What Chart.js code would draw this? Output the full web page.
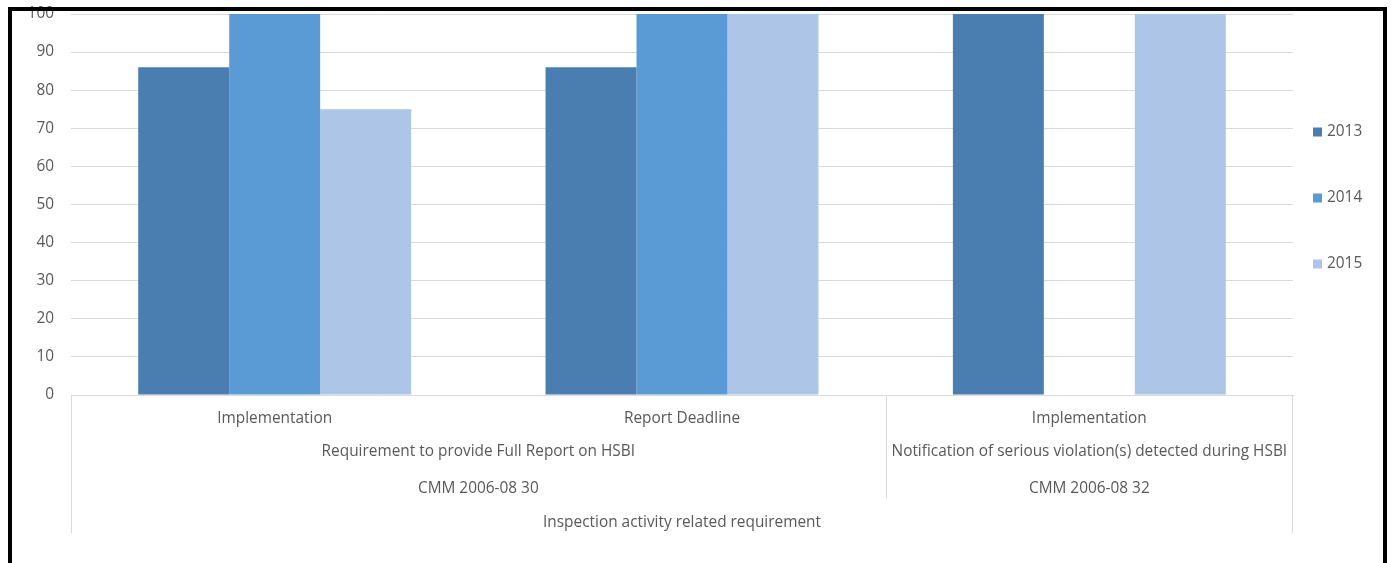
<!DOCTYPE html>
<html>
<head>
<meta charset="utf-8">
<script src="https://cdn.jsdelivr.net/npm/chart.js@4/dist/chart.umd.min.js"></script>
<style>
  html, body { margin: 0; padding: 0; background: #fff; overflow: hidden; }
  #wrap { position: relative; width: 1392px; height: 563px; }
  #frame {
    position: absolute; left: 8px; top: 7px; width: 1379px; height: 640px;
    border: 4px solid #000; box-sizing: border-box; pointer-events: none;
  }
</style>
</head>
<body>
<div id="wrap">
  <canvas id="c" width="1392" height="563"></canvas>
  <div id="frame"></div>
</div>
<script>
// Category hierarchy (innermost level first)
const activities = ['Implementation', 'Report Deadline', 'Implementation'];
const requirements = ['Requirement to provide Full Report on HSBI', 'Notification of serious violation(s) detected during HSBI'];
const requirementSpans = [2, 1];
const measures = ['CMM 2006-08 30', 'CMM 2006-08 32'];
const measureSpans = [2, 1];
const topGroup = 'Inspection activity related requirement';

// Compliance (%) per year
const years = ['2013', '2014', '2015'];
const values2013 = [86, 86, 100];
const values2014 = [100, 100, null];
const values2015 = [75, 100, 100];

const colors = ['#4A7EB0', '#5B9BD5', '#ADC5E6'];
const FONT = '"Open Sans", sans-serif';
const FSIZE = 15.4;
const TEXT = '#595959';
const LINE = '#D9D9D9';

// Draws the grouped category levels below the axis and the legend at right
const groupAxis = {
  id: 'groupAxis',
  afterDraw(chart) {
    const ctx = chart.ctx;
    const x = chart.scales.x;
    const area = chart.chartArea;
    const half = (x.getPixelForValue(1) - x.getPixelForValue(0)) / 2;
    const edge = i => x.getPixelForValue(i) - half; // left boundary of category i
    const rowY = [452, 489];
    const rows = [[requirements, requirementSpans], [measures, measureSpans]];
    ctx.save();
    ctx.font = FSIZE + 'px ' + FONT;
    ctx.fillStyle = TEXT;
    ctx.textAlign = 'center';
    ctx.textBaseline = 'middle';
    rows.forEach(([labels, spans], r) => {
      let start = 0;
      labels.forEach((lab, k) => {
        const a = edge(start), b = edge(start + spans[k]);
        ctx.fillText(lab, (a + b) / 2, rowY[r]);
        start += spans[k];
      });
    });
    ctx.fillText(topGroup, (area.left + area.right) / 2, 523);

    // separators between groups
    ctx.strokeStyle = LINE;
    ctx.lineWidth = 1;
    const vline = (px, y1) => {
      ctx.beginPath();
      ctx.moveTo(Math.round(px) + 0.5, area.bottom);
      ctx.lineTo(Math.round(px) + 0.5, y1);
      ctx.stroke();
    };
    vline(area.left, 533);
    vline(area.right - 1, 533);
    vline(edge(requirementSpans[0]), 498);

    // legend
    const legendY = [132, 198, 264];
    chart.data.datasets.forEach((ds, i) => {
      ctx.fillStyle = ds.backgroundColor;
      ctx.fillRect(1313, legendY[i] - 4.5, 9, 9);
      ctx.fillStyle = TEXT;
      ctx.textAlign = 'left';
      ctx.fillText(ds.label, 1327, legendY[i]);
    });
    ctx.restore();
  }
};

new Chart(document.getElementById('c'), {
  type: 'bar',
  data: {
    labels: activities,
    datasets: [
      { label: years[0], data: values2013, backgroundColor: colors[0] },
      { label: years[1], data: values2014, backgroundColor: colors[1] },
      { label: years[2], data: values2015, backgroundColor: colors[2] }
    ]
  },
  options: {
    responsive: false,
    animation: false,
    layout: { padding: { top: 14, right: 99, left: 0, bottom: 0 } },
    datasets: { bar: { categoryPercentage: 0.67, barPercentage: 1.0, borderWidth: 0 } },
    plugins: { legend: { display: false }, tooltip: { enabled: false }, title: { display: false } },
    scales: {
      x: {
        grid: { display: false, drawTicks: false },
        border: { display: true, color: LINE, width: 1 },
        ticks: { color: TEXT, font: { family: FONT, size: FSIZE }, padding: 14, maxRotation: 0, autoSkip: false },
        afterFit(scale) { scale.height = 168; }
      },
      y: {
        min: 0, max: 100,
        ticks: { stepSize: 10, color: TEXT, font: { family: FONT, size: FSIZE }, padding: 17 },
        grid: { color: LINE, drawTicks: false },
        border: { display: false },
        afterFit(scale) {
          scale.width = 71;
          scale.paddingTop = 0;
          scale.paddingBottom = 0;
        }
      }
    }
  },
  plugins: [groupAxis]
});
</script>
</body>
</html>
